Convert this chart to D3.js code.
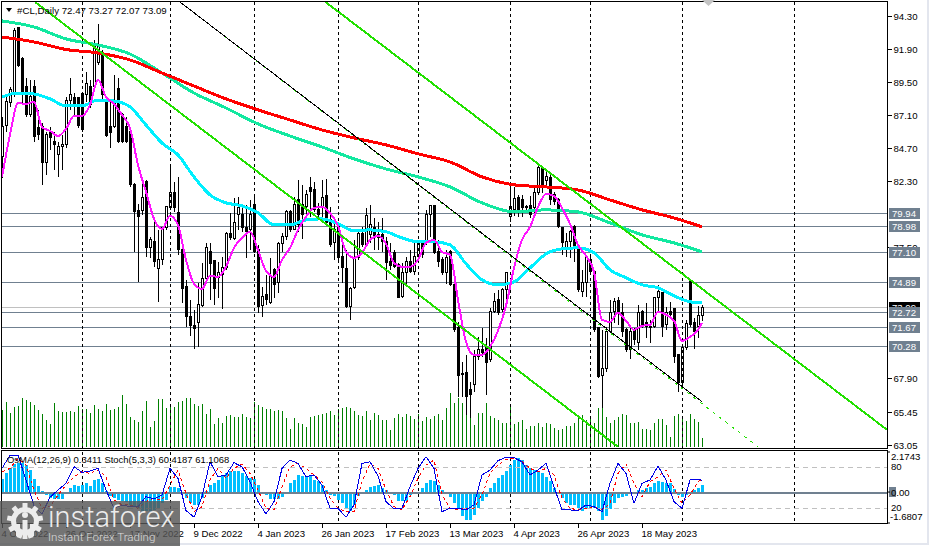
<!DOCTYPE html>
<html><head><meta charset="utf-8">
<script src="https://cdn.jsdelivr.net/npm/d3@7"></script>
<style>
html,body{margin:0;padding:0;background:#fff}
svg{display:block;font-family:"Liberation Sans",sans-serif}
</style></head><body><svg id="c" width="930" height="546"></svg>
<script>
const opens=[84.04,86.36,87.97,88.55,93.43,91.17,89.13,87.09,89.13,86.15,86.22,83.60,85.86,85.13,84.18,84.76,84.91,88.18,88.33,88.33,88.69,88.55,89.13,89.13,90.88,91.61,88.18,86.22,86.22,88.99,87.09,86.22,85.86,82.00,80.10,80.10,82.22,77.41,77.85,75.88,76.54,78.87,80.32,81.41,79.96,77.26,74.57,72.39,71.73,71.95,73.19,75.15,77.12,76.46,75.23,75.44,75.95,78.43,78.07,79.81,79.81,78.87,78.72,80.54,77.26,73.19,73.99,73.41,75.81,74.86,77.70,78.21,80.03,78.72,80.90,80.54,80.39,81.78,81.63,80.18,80.32,81.20,79.45,77.77,79.08,76.75,75.88,73.12,74.50,76.68,78.43,77.63,78.36,78.87,78.36,78.36,77.85,76.39,77.05,76.17,73.84,75.59,76.39,75.66,76.75,77.77,77.77,79.81,80.47,77.12,76.54,75.59,77.12,74.72,71.59,68.24,68.31,67.07,67.44,69.48,69.98,70.13,69.26,72.75,73.62,72.90,74.35,79.67,80.18,81.05,80.90,80.39,80.47,80.32,81.41,83.23,82.29,82.51,81.27,80.90,78.87,77.41,77.85,78.94,77.41,74.21,74.86,76.54,75.66,71.59,68.09,68.60,71.30,72.75,73.55,72.68,71.44,69.98,71.44,70.49,72.75,71.95,71.66,71.66,73.77,74.13,71.80,72.75,72.97,69.62,67.58,70.13,74.93,71.95,71.66,72.47];
const highs=[86.95,88.40,89.13,93.43,93.50,91.32,89.79,89.64,89.64,87.46,86.51,85.86,86.22,85.86,85.13,85.64,88.40,89.79,88.69,88.40,88.77,90.22,89.64,92.55,93.72,91.82,88.33,88.18,90.00,89.79,87.24,86.95,86.22,82.14,80.61,82.58,82.36,78.21,79.45,78.72,78.87,80.47,83.45,82.22,82.58,77.63,75.08,73.62,72.90,74.86,76.32,77.77,77.77,76.54,76.39,76.75,78.58,79.96,81.05,81.12,80.54,80.54,80.90,81.12,77.63,74.57,75.44,76.68,75.95,77.85,78.50,80.18,80.18,81.12,82.36,82.00,81.63,82.58,82.22,80.69,82.36,82.43,80.39,79.45,79.23,78.21,77.26,74.57,77.99,78.72,78.94,80.32,80.54,79.59,79.30,79.59,78.21,77.77,77.26,76.32,76.32,76.75,77.26,77.77,77.85,77.99,80.18,80.54,80.54,77.99,76.75,77.26,77.26,74.86,72.02,69.11,69.62,67.65,69.98,70.93,71.59,70.86,73.04,74.13,74.35,74.50,75.66,82.00,81.85,81.27,81.27,80.54,81.20,81.78,83.38,83.38,83.09,82.94,81.49,81.05,78.94,78.50,78.72,79.08,77.48,75.81,76.75,76.90,75.81,71.66,71.44,71.66,73.62,73.77,73.84,73.41,71.59,71.66,71.59,73.26,72.90,73.41,72.17,73.84,74.72,74.21,73.12,73.48,73.04,69.69,70.20,72.17,74.93,72.31,73.19,73.27];
const lows=[82.51,85.86,87.68,88.40,90.59,87.82,86.95,86.95,85.13,85.27,82.00,82.72,84.54,83.09,82.58,83.09,84.69,87.46,86.95,86.15,85.86,88.04,87.60,89.06,90.73,88.18,85.49,84.69,86.15,85.05,85.05,85.05,81.85,77.12,74.93,79.81,76.75,76.68,76.03,73.48,76.17,78.72,80.18,80.03,76.90,73.41,71.66,71.00,70.06,70.20,73.12,75.01,73.62,73.26,73.77,72.97,75.81,77.99,77.99,78.72,78.58,76.68,77.26,77.05,72.68,72.39,73.26,73.33,73.77,74.13,77.12,77.99,78.58,78.72,78.58,78.07,79.67,79.67,80.03,79.59,79.67,79.08,77.48,76.54,76.54,74.86,73.04,72.17,74.43,76.54,77.48,77.48,77.77,77.26,77.26,77.12,75.08,75.81,75.95,73.77,73.77,74.57,75.59,75.44,76.54,76.68,77.63,78.21,76.97,76.03,75.44,74.79,74.64,71.30,66.56,66.56,65.25,65.03,66.93,69.26,69.48,66.71,69.11,72.68,72.53,72.75,73.62,79.30,79.74,79.67,79.67,80.18,79.59,79.59,81.27,81.41,82.00,80.54,80.54,78.87,76.90,76.75,76.68,76.39,74.21,73.84,73.84,75.59,71.30,67.95,65.76,68.38,71.22,71.95,71.80,70.93,69.84,69.33,70.35,69.98,71.59,70.86,70.49,71.59,72.68,70.93,71.44,72.39,69.04,66.93,67.29,69.98,71.66,70.06,70.86,72.07];
const closes=[86.22,88.04,88.91,93.21,90.73,88.55,87.09,88.40,85.49,85.64,83.60,85.64,85.42,84.91,84.76,84.91,88.18,88.55,87.82,86.29,86.00,89.35,87.82,92.19,92.19,88.55,85.56,85.78,88.04,85.13,85.13,85.13,82.00,80.03,79.67,81.05,77.41,77.99,76.39,76.54,78.87,80.39,81.41,80.32,77.26,74.43,72.39,71.73,71.51,73.26,75.15,77.41,76.25,74.43,75.59,75.95,78.43,78.14,79.23,80.32,78.87,78.58,79.81,77.12,73.12,73.84,73.62,75.30,74.72,77.70,78.21,80.03,78.72,80.54,79.08,79.81,81.27,81.49,80.18,79.81,81.05,79.23,77.63,78.72,76.68,75.95,73.12,74.43,76.68,78.43,77.63,79.74,79.08,78.21,78.14,77.85,76.32,76.10,76.03,73.77,75.59,76.39,75.66,76.75,77.77,76.90,79.81,80.47,77.05,76.39,75.59,76.68,74.72,71.44,68.09,68.16,66.56,66.71,69.48,69.98,69.77,69.04,72.75,73.48,72.68,74.35,75.59,80.39,80.98,80.18,80.32,80.32,79.81,81.41,83.23,82.00,82.58,80.90,80.76,78.94,77.77,77.85,78.58,77.48,74.35,74.86,76.68,75.66,71.44,68.02,68.60,71.30,72.68,73.48,72.68,71.30,69.98,71.30,70.71,72.68,71.66,71.66,71.59,73.77,74.21,71.66,72.68,72.53,69.48,67.58,70.13,71.88,71.80,71.30,72.46,73.09];
const volumes=[37,45,34,40,41,49,47,45,42,37,33,27,23,44,36,35,35,36,35,41,38,38,34,42,38,36,43,37,38,40,52,43,30,27,25,36,46,20,26,48,48,39,40,40,45,46,49,49,43,41,43,33,38,23,29,24,31,32,30,30,33,30,29,45,42,40,38,38,36,37,36,29,18,29,24,23,20,30,31,32,33,34,36,32,38,39,40,39,36,32,31,36,27,34,32,27,27,17,29,33,30,33,31,28,33,26,30,28,31,33,27,39,54,44,49,44,50,29,22,34,34,44,31,29,27,24,24,40,23,25,27,18,21,21,24,20,24,23,19,17,18,21,21,24,31,32,27,29,24,39,44,30,24,27,30,33,32,24,24,25,18,18,17,24,28,28,22,10,31,33,30,26,33,28,25,9];
const osma=[.72,1.03,1.30,1.54,1.58,1.58,1.49,1.21,.71,.31,.03,-.14,-.33,-.38,-.38,-.38,-.05,.22,.40,.31,.40,.49,.31,.67,.72,.49,.03,-.20,-.33,-.42,-.51,-.54,-.69,-.78,-.87,-1.05,-1.05,-1.05,-.96,-.87,-.60,-.42,.25,.25,.22,-.03,-.33,-.60,-.69,-.72,-.33,.03,.36,.49,.67,.85,1.03,1.12,1.16,1.12,1.03,.85,.76,.72,.40,.02,-.14,-.38,-.38,-.38,-.27,-.02,.49,.67,.91,.89,.89,.85,.67,.58,.40,.13,-.14,-.20,-.42,-.60,-.87,-1.05,-.69,-.24,-.02,.13,.25,.31,.40,.22,.13,-.02,-.14,-.51,-.51,-.47,-.14,-.11,.02,.22,.49,.67,.58,.40,.13,-.02,-.27,-.60,-.87,-1.29,-1.50,-1.50,-1.23,-.87,-.51,-.27,.22,.49,.76,.94,1.12,1.49,1.76,1.85,1.72,1.49,1.30,1.21,1.12,1.03,.82,.58,.22,-.05,-.33,-.60,-.69,-.69,-.87,-1.05,-.87,-.87,-.87,-1.05,-1.50,-1.29,-.92,-.60,-.33,-.27,-.24,-.11,-.02,.09,.13,.22,.27,.49,.62,.53,.49,.49,.18,-.14,-.27,-.14,.02,.13,.22,.40];
const ma200=[92.77,92.41,91.86,91.61,91.10,90.15,89.20,88.26,87.46,86.73,86.00,85.42,84.91,84.26,83.67,82.58,82.00,81.85,81.63,80.90,80.18,79.59,78.94];
const ma100=[93.94,93.50,92.63,92.19,91.53,90.15,88.69,87.60,86.44,85.56,84.76,83.89,83.16,82.58,81.85,80.69,80.03,80.18,80.03,79.23,78.36,77.77,77.12];
const ma50=[88.40,88.69,88.62,88.26,87.75,87.75,88.18,88.11,87.68,86.36,85.05,84.18,82.58,81.27,80.69,80.47,79.96,79.08,79.08,79.45,79.52,79.16,78.65,78.72,78.58,78.14,77.85,77.85,77.63,76.25,75.08,74.72,74.93,75.95,76.97,77.34,77.41,77.05,75.81,75.23,74.72,74.50,73.92,73.48,73.41];
const ma13=[82.58,85.64,87.97,87.89,88.04,86.22,85.93,85.56,86.07,87.02,87.02,87.82,89.64,88.40,87.89,87.09,86.15,83.45,81.49,79.52,78.79,79.74,79.08,76.54,74.79,74.43,75.37,75.30,76.03,77.41,78.14,78.58,77.26,75.74,75.30,76.54,77.41,78.72,79.67,80.32,80.39,79.96,79.01,77.12,76.68,77.05,77.99,78.28,77.70,76.32,76.03,76.03,76.54,77.77,77.99,77.12,76.90,73.62,70.57,69.62,69.62,70.20,71.37,73.19,75.95,77.99,78.94,80.39,81.34,81.20,80.32,79.16,77.63,76.83,75.66,72.17,72.02,72.68,72.10,71.44,71.73,71.80,72.75,72.53,72.10,70.64,70.93,71.44,71.95];
const stochMain=[77.4,96.6,96.6,60.6,23.7,11.7,35.7,46.2,55.8,79.8,71.7,73.6,77.4,46.2,19.8,24.6,22.2,22.2,36.6,33.3,39,77.4,63,16.5,6.9,36.6,87,65.4,67.8,85.6,79.8,58.2,29.4,11.7,29.4,77.4,89.4,84.6,65.4,67.8,53.4,19.8,19.8,6.9,24.6,84.6,87,66.4,29.4,18.9,19.8,51,77.4,94.2,77.4,15,19.8,19.8,17.4,24.6,67.8,75,88.5,93.3,92.8,87,67.8,75,84.6,51,17.4,17.4,16.5,24.6,22.2,15,55.8,84.6,70.2,27,55.8,60.6,80.8,60.6,29.4,19.8,60.6,61.6,60.4];
const stochSignal=[72.6,77.4,91.8,82.2,46.2,19.8,22.2,39,53.4,65.4,72.6,70.2,75,65.4,31.8,24.6,24.6,19.8,29.4,34.2,31.8,53.4,75,41.4,15,22.2,60.6,77.4,63,77.4,83.7,70.2,46.2,19.8,17.4,51,79.8,84.6,77.4,67.8,58.2,34.2,19.8,15,15,58.2,83.7,77.4,46.2,22.2,17.4,36.6,63,82.2,89.4,39,19.8,17.4,19.8,19.8,39,70.2,82.2,90.4,91.8,87,77.4,72.6,77.4,67.8,34.2,19.8,17.4,19.8,22.2,17.4,27,70.2,83.7,55.8,36.6,58.2,65.4,75,48.6,27,39,58.2,61.1];
const levels=[79.94,78.98,77.10,74.89,72.72,71.67,70.28];
const lastPrice=73.09;
const priceTicks=[94.30,91.90,89.50,87.10,84.70,82.30,77.50,67.90,65.45,63.05];
const monthBars=[20,42,63,84,104,127,147,170,198];
const dateBars=[0,16,32,48,64,80,96,112,128,144,160];
const dateLabels=["4 Oct 2022","26 Oct 2022","17 Nov 2022","9 Dec 2022","4 Jan 2023","26 Jan 2023","17 Feb 2023","13 Mar 2023","4 Apr 2023","26 Apr 2023","18 May 2023"];
const chanA=[[8.25,95.32],[154,62.92]];
const chanB=[[80.25,95.46],[221.25,64.16]];
const chanC=[[44.5,95.32],[175,66.2]];
const chanCext=[[44.5,95.32],[189,62.92]];

const svg=d3.select("#c");
const bars=d3.range(opens.length);
const x=d3.scaleLinear().domain([0,175]).range([2,702]);
const y=d3.scaleLinear().domain([94.30,63.05]).range([16,445]);
const yVol=d3.scaleLinear().domain([0,52]).range([447,395]);
const yOsma=d3.scaleLinear().domain([2.1743,-1.6807]).range([452,523]);
const yStoch=d3.scaleLinear().domain([100,0]).range([452.7,522]);
const px=i=>Math.round(x(i))+.5;

const defs=svg.append("defs");
defs.append("clipPath").attr("id","main").append("rect").attr("x",2).attr("y",2).attr("width",885).attr("height",446);
defs.append("clipPath").attr("id","sub").append("rect").attr("x",2).attr("y",451).attr("width",885).attr("height",72);

// page border
svg.append("rect").attr("x",-2).attr("y",-2).attr("width",930).attr("height",546).attr("fill","#fff").attr("stroke","#e3e6ee").attr("stroke-width",2);

const crisp=svg.append("g").attr("shape-rendering","crispEdges");
// horizontal levels
const m=crisp.append("g").attr("clip-path","url(#main)");
m.append("line").attr("x1",2).attr("x2",887).attr("y1",Math.round(y(lastPrice))+.5).attr("y2",Math.round(y(lastPrice))+.5).attr("stroke","#c0c0c0");
m.selectAll("line.lv").data(levels).join("line").attr("class","lv").attr("x1",2).attr("x2",887)
 .attr("y1",d=>Math.round(y(d))+.5).attr("y2",d=>Math.round(y(d))+.5).attr("stroke","#708090");

// volumes
m.selectAll("line.v").data(volumes).join("line").attr("class","v").attr("x1",(d,i)=>px(i)).attr("x2",(d,i)=>px(i))
 .attr("y1",yVol(0)).attr("y2",d=>yVol(d)).attr("stroke","#008000");

// month separators
crisp.selectAll("line.sep").data(monthBars).join("line").attr("class","sep").attr("x1",d=>px(d)).attr("x2",d=>px(d))
 .attr("y1",2).attr("y2",523).attr("stroke","#000").attr("stroke-dasharray","3 3");

// candles
const cg=m.append("g");
cg.selectAll("line.w").data(bars).join("line").attr("class","w").attr("x1",px).attr("x2",px)
 .attr("y1",i=>y(highs[i])).attr("y2",i=>y(lows[i])).attr("stroke","#000");
cg.selectAll("rect").data(bars).join("rect")
 .attr("x",i=>px(i)-1).attr("width",2)
 .attr("y",i=>y(Math.max(opens[i],closes[i])))
 .attr("height",i=>Math.max(.5,Math.abs(y(opens[i])-y(closes[i]))))
 .attr("fill",i=>closes[i]>=opens[i]?"#fff":"#000").attr("stroke","#000");

// moving averages
const ovl=svg.append("g").attr("clip-path","url(#main)").attr("shape-rendering","crispEdges");
const lineOf=(vals,step)=>{
  const idx=d3.range(0,175,step).concat([175]);
  return d3.line().x((d,k)=>x(idx[k])).y(d=>y(d)).curve(d3.curveMonotoneX)(vals);
};
ovl.append("path").attr("d",lineOf(ma100,8)).attr("fill","none").attr("stroke","#12e8a0").attr("stroke-width",3);
ovl.append("path").attr("d",lineOf(ma200,8)).attr("fill","none").attr("stroke","#ff0000").attr("stroke-width",3);
ovl.append("path").attr("d",lineOf(ma50,4)).attr("fill","none").attr("stroke","#00f0ff").attr("stroke-width",3);
ovl.append("path").attr("d",lineOf(ma13,2)).attr("fill","none").attr("stroke","#ff14ff").attr("stroke-width",2);

// trend channels
const seg=d3.line().x(d=>x(d[0])).y(d=>y(d[1]));
ovl.append("path").attr("d",seg(chanA)).attr("stroke","#22e000").attr("stroke-width",2).attr("fill","none");
ovl.append("path").attr("d",seg(chanB)).attr("stroke","#22e000").attr("stroke-width",2).attr("fill","none");
ovl.append("path").attr("d",seg(chanCext)).attr("stroke","#22e000").attr("stroke-width",1).attr("stroke-dasharray","3 5").attr("fill","none");
ovl.append("path").attr("d",seg(chanC)).attr("stroke","#000").attr("stroke-width",1).attr("fill","none");

// lower window
const s=svg.append("g").attr("clip-path","url(#sub)").attr("shape-rendering","crispEdges");
const sc=s.append("g");
sc.selectAll("rect").data(osma).join("rect")
 .attr("x",(d,i)=>px(i)-1.5).attr("width",3)
 .attr("y",d=>Math.min(yOsma(d),yOsma(0))).attr("height",d=>Math.abs(yOsma(d)-yOsma(0)))
 .attr("fill","#00bfff");
sc.selectAll("line.g").data([80,20]).join("line").attr("class","g").attr("x1",2).attr("x2",887)
 .attr("y1",d=>Math.round(yStoch(d))+.5).attr("y2",d=>Math.round(yStoch(d))+.5)
 .attr("stroke","#c0c0c0").attr("stroke-dasharray","5 4");
sc.append("line").attr("x1",2).attr("x2",887).attr("y1",Math.round(yOsma(0))+.5).attr("y2",Math.round(yOsma(0))+.5).attr("stroke","#708090").attr("stroke-width",2);
const idx2=d3.range(0,175,2).concat([175]);
const stLine=d3.line().x((d,k)=>x(idx2[k])).y(d=>yStoch(d));
s.append("path").attr("d",stLine(stochSignal)).attr("fill","none").attr("stroke","#ff0000").attr("stroke-width",1).attr("stroke-dasharray","3 3");
s.append("path").attr("d",stLine(stochMain)).attr("fill","none").attr("stroke","#0000e6").attr("stroke-width",1);

// frames
crisp.append("rect").attr("x",1.5).attr("y",1.5).attr("width",886).attr("height",447).attr("fill","none").attr("stroke","#000");
crisp.append("rect").attr("x",1.5).attr("y",450.5).attr("width",886).attr("height",73).attr("fill","none").attr("stroke","#000");

// shift marker
svg.append("path").attr("d",d3.line()([[702,0],[715,0],[708.5,6]])+"Z").attr("fill","#c4c4c4");

// axes
const FS="9.6px";
const ax=svg.append("g").attr("transform","translate(887.5,0)").call(d3.axisRight(y).tickValues(priceTicks).tickFormat(d3.format(".2f")).tickSize(4).tickSizeOuter(0));
ax.select(".domain").remove();
ax.selectAll("text").attr("x",6).attr("font-family","Liberation Sans").attr("font-size",FS).attr("fill","#000").attr("dy","0.36em");
ax.selectAll("line").attr("shape-rendering","crispEdges");

const dx=svg.append("g").attr("transform","translate(0,523.5)").call(d3.axisBottom(x).tickValues(dateBars).tickFormat((d,i)=>dateLabels[i]).tickSize(4).tickSizeOuter(0));
dx.select(".domain").remove();
dx.selectAll("text").attr("text-anchor","start").attr("x",-1).attr("y",7).attr("font-family","Liberation Sans").attr("font-size",FS).attr("fill","#000");
dx.selectAll("line").attr("shape-rendering","crispEdges");

// price label boxes
const boxes=[{v:lastPrice,f:"#000",t:"#fff"}].concat(levels.map(v=>({v,f:"#708090",t:"#fff"})));
const bg=svg.append("g");
boxes.forEach(b=>{
  const yy=Math.round(y(b.v));
  bg.append("rect").attr("x",889).attr("y",yy-5.5).attr("width",31).attr("height",11).attr("fill",b.f).attr("shape-rendering","crispEdges");
  bg.append("text").attr("x",892).attr("y",yy+.5).attr("dy","0.36em").attr("font-size",FS).attr("fill",b.t).text(b.v.toFixed(2));
});

// lower axis labels
const lowerLabels=[["2.1743",457],["80",466.5],["20",508],["-1.6807",517]];
svg.append("g").selectAll("text").data(lowerLabels).join("text").attr("x",d=>d[0][0]==="-"?890:891).attr("y",d=>d[1]).attr("dy","0.36em").attr("font-size",FS).attr("fill","#000").text(d=>d[0]);
svg.append("rect").attr("x",889).attr("y",487).attr("width",7).attr("height",10).attr("fill","#708090");
svg.append("text").attr("x",891).attr("y",492.5).attr("dy","0.36em").attr("font-size",FS).attr("fill","#000").text("0.00");
svg.selectAll("line.t2").data([2.1743,0,-1.6807]).join("line").attr("class","t2").attr("x1",887.5).attr("x2",890).attr("y1",d=>yOsma(d)).attr("y2",d=>yOsma(d)).attr("stroke","#000");

// headers
svg.append("path").attr("d",d3.line()([[6,8],[12,8],[9,12]])+"Z").attr("fill","#000");
svg.append("text").attr("x",17).attr("y",13.5).attr("font-size","9.7px").attr("fill","#000").text("#CL,Daily  72.47 73.27 72.07 73.09");
svg.append("text").attr("x",7).attr("y",462.5).attr("font-size","9.45px").attr("fill","#000").text("OsMA(12,26,9) 0.3411  Stoch(5,3,3) 60.4187 61.1068");

// watermark
const wm=svg.append("g");
wm.append("rect").attr("x",0).attr("y",501).attr("width",180).attr("height",45).attr("fill","#555").attr("fill-opacity",.82);
const gear=wm.append("g").attr("transform","translate(25,521)").attr("fill","#ececec");
gear.append("path").attr("d",d3.arc()({innerRadius:9,outerRadius:14,startAngle:0,endAngle:2*Math.PI}));
gear.selectAll("rect").data(d3.range(9)).join("rect").attr("x",-2.5).attr("y",-18).attr("width",5).attr("height",6).attr("transform",d=>`rotate(${d*40})`);
gear.append("circle").attr("cx",0).attr("cy",-6).attr("r",3);
gear.append("rect").attr("x",-2.5).attr("y",-1).attr("width",5).attr("height",19);
gear.append("rect").attr("x",-9).attr("y",3).attr("width",4).attr("height",12);
gear.append("rect").attr("x",5).attr("y",3).attr("width",4).attr("height",12);
wm.append("text").attr("x",48).attr("y",527).attr("font-family","Roboto").attr("font-weight",300).attr("font-size","29px").attr("fill","#ececec").text("instaforex");
wm.append("text").attr("x",48).attr("y",541).attr("font-family","Roboto").attr("font-weight",300).attr("font-size","11.6px").attr("fill","#dcdcdc").text("Instant Forex Trading");
</script></body></html>
